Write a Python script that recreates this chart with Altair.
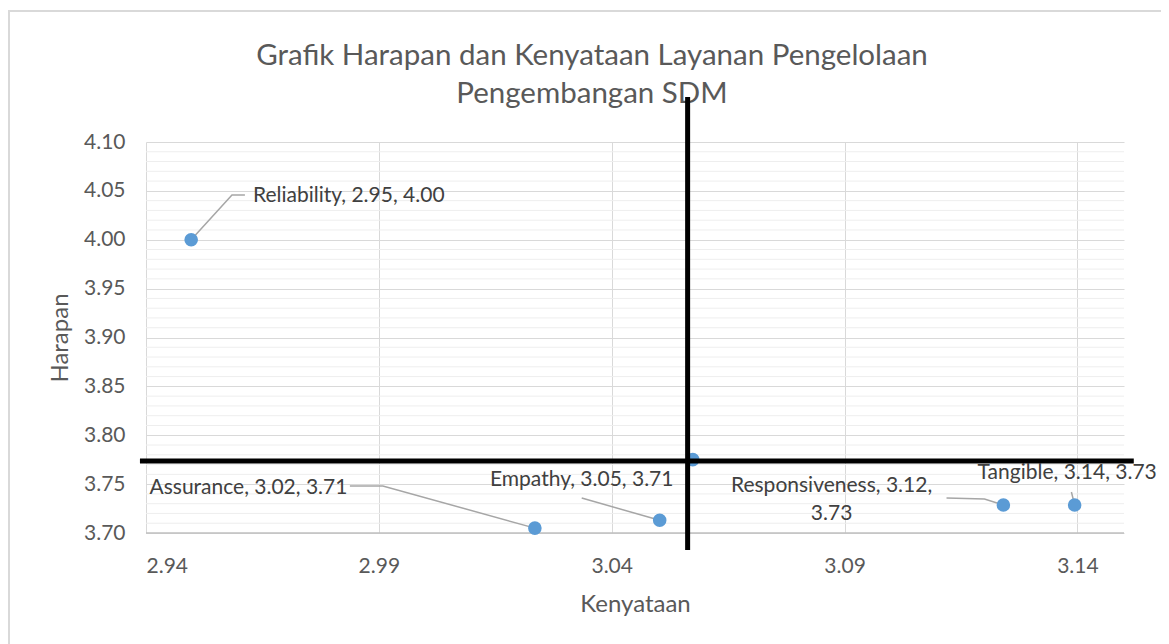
import altair as alt
import pandas as pd

# ---- data ----
names = ["Reliability", "Assurance", "Empathy", "Responsiveness", "Tangible"]
kenyataan = [2.9497, 3.0235, 3.0503, 3.1241, 3.1394]
harapan = [4.000, 3.705, 3.713, 3.7286, 3.7286]
label_text = ["Reliability, 2.95, 4.00", "Assurance, 3.02, 3.71", "Empathy, 3.05, 3.71",
              "Responsiveness, 3.12,\n3.73", "Tangible, 3.14, 3.73"]
# label anchors (data units)
label_x = [2.96296, 2.9620, 3.03356, 3.08721, 3.1378]
label_y = [4.0448, 3.7460, 3.7542, 3.7481, 3.7614]
label_align = ["left", "center", "center", "center", "center"]
# leader line elbows (data units), ordered from label side to point
leader_x = [[2.96124, 2.95846], [2.98378, 2.99086], [3.03356], [3.11189, 3.12004], [3.13871]]
leader_y = [[4.0458, 4.0458], [3.7481, 3.7481], [3.7358], [3.7358, 3.7348], [3.7419]]

title_lines = ["Grafik Harapan dan Kenyataan Layanan Pengelolaan", "Pengembangan SDM"]

mean_x = sum(kenyataan) / len(kenyataan)
mean_y = sum(harapan) / len(harapan)
cross_x = 3.0563
cross_y = 3.7737

x_ticks = [2.94, 2.99, 3.04, 3.09, 3.14]
y_ticks = [3.70, 3.75, 3.80, 3.85, 3.90, 3.95, 4.00, 4.05, 4.10]
y_minor = [round(3.70 + 0.01 * i, 2) for i in range(1, 40) if i % 5 != 0]

X_DOM = [2.94, 3.15]
Y_DOM = [3.70, 4.10]
FONT = "Lato"
TXT = "#595959"

pts = pd.DataFrame({"name": names, "x": kenyataan, "y": harapan})
pts_all = pd.concat([pts, pd.DataFrame({"name": ["Mean"], "x": [mean_x], "y": [mean_y]})])

rows = []
for i, n in enumerate(names):
    seq = list(zip(leader_x[i], leader_y[i])) + [(kenyataan[i], harapan[i])]
    for k, (a, b) in enumerate(seq):
        rows.append({"name": n, "o": k, "x": a, "y": b})
leaders = pd.DataFrame(rows)

labels = pd.DataFrame({"name": names, "x": label_x, "y": label_y,
                       "text": [t.split("\n") for t in label_text], "align": label_align})

xs = alt.Scale(domain=X_DOM, nice=False, zero=False)
ys = alt.Scale(domain=Y_DOM, nice=False, zero=False)

frame = alt.Chart(pd.DataFrame({"a": [0]})).mark_rect(
    fill=None, stroke="#d9d9d9", strokeWidth=2
).encode(x=alt.value(-137), x2=alt.value(1200), y=alt.value(-131), y2=alt.value(700))

title = alt.Chart(pd.DataFrame({"t": [title_lines]})).mark_text(
    font=FONT, fontSize=29.5, color=TXT, align="center", baseline="middle", lineHeight=38
).encode(text="t", x=alt.value(446), y=alt.value(-86))

minor = alt.Chart(pd.DataFrame({"y": y_minor})).mark_rule(color="#eeeeee", strokeWidth=1).encode(
    y=alt.Y("y:Q", scale=ys)
)

base = alt.Chart(pts).mark_point(opacity=0).encode(
    x=alt.X("x:Q", scale=xs, title="Kenyataan",
            axis=alt.Axis(values=x_ticks, format=".2f", grid=True, gridColor="#d9d9d9",
                          ticks=False, domain=False, labelPadding=22, titlePadding=16,
                          labelFontSize=21, titleFontSize=24, labelColor=TXT, titleColor=TXT,
                          labelFont=FONT, titleFont=FONT, titleFontWeight="normal")),
    y=alt.Y("y:Q", scale=ys, title="Harapan",
            axis=alt.Axis(values=y_ticks, format=".2f", grid=True, gridColor="#d9d9d9",
                          ticks=False, domain=False, labelPadding=21, titlePadding=11,
                          labelFontSize=21, titleFontSize=24, labelColor=TXT, titleColor=TXT,
                          labelFont=FONT, titleFont=FONT, titleFontWeight="normal")),
)

bottom_line = alt.Chart(pd.DataFrame({"y": [Y_DOM[0]]})).mark_rule(color="#bfbfbf", strokeWidth=1.5).encode(
    y=alt.Y("y:Q", scale=ys)
)

lead = alt.Chart(leaders).mark_line(color="#a6a6a6", strokeWidth=1.5).encode(
    x=alt.X("x:Q", scale=xs), y=alt.Y("y:Q", scale=ys), detail="name:N", order="o:Q"
)

dots = alt.Chart(pts_all).mark_circle(size=185, color="#5b9bd5", opacity=1).encode(
    x=alt.X("x:Q", scale=xs), y=alt.Y("y:Q", scale=ys)
)

vline = alt.Chart(pd.DataFrame({"x": [cross_x], "y": [4.146], "y2": [3.6826]})).mark_rule(
    color="black", strokeWidth=5
).encode(x=alt.X("x:Q", scale=xs), y=alt.Y("y:Q", scale=ys), y2="y2:Q")

hline = alt.Chart(pd.DataFrame({"y": [cross_y], "x": [2.9387], "x2": [3.1521]})).mark_rule(
    color="black", strokeWidth=5
).encode(y=alt.Y("y:Q", scale=ys), x=alt.X("x:Q", scale=xs), x2="x2:Q")

def label_layer(align):
    d = labels[labels["align"] == align]
    return alt.Chart(d).mark_text(align=align, baseline="middle", fontSize=21, font=FONT,
                                  color="#404040", lineHeight=28).encode(
        x=alt.X("x:Q", scale=xs), y=alt.Y("y:Q", scale=ys), text="text"
    )

chart = alt.layer(
    frame, title, minor, base, bottom_line, lead, dots, vline, hline,
    label_layer("left"), label_layer("center")
).properties(
    width=978, height=391,
    autosize=alt.AutoSizeParams(type="none"),
    padding={"left": 138, "top": 134, "right": 37, "bottom": 111},
).configure_view(stroke=None)

chart.save("out.html", embed_options={"renderer": "svg", "actions": False})
